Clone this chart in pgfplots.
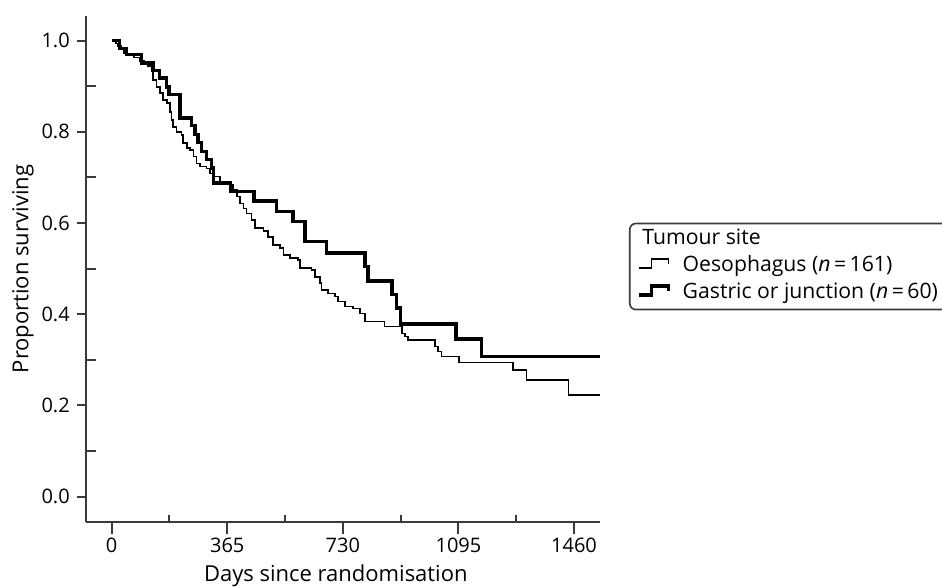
\documentclass[border=0pt]{standalone}
\usepackage{fontspec}
\setmainfont{Open Sans}
\usepackage{pgfplots}
\pgfplotsset{compat=1.18}
\usepackage{pgfplotstable}

\definecolor{axisgray}{HTML}{3A3A3A}

% Kaplan-Meier estimates: day, proportion surviving (step held from that day on)
\pgfplotstableread{
t S
0 1.000
14 0.994
20 0.988
29 0.981
39 0.972
51 0.969
70 0.963
89 0.956
102 0.950
115 0.944
126 0.932
131 0.914
142 0.899
152 0.885
163 0.870
174 0.863
184 0.844
189 0.826
194 0.811
205 0.800
221 0.793
226 0.775
237 0.764
247 0.760
258 0.746
268 0.731
279 0.724
300 0.720
310 0.709
321 0.702
342 0.691
374 0.684
384 0.673
395 0.658
405 0.643
416 0.632
426 0.621
442 0.607
452 0.589
479 0.583
494 0.570
510 0.552
531 0.545
542 0.530
563 0.523
589 0.519
595 0.501
631 0.497
642 0.482
658 0.468
663 0.453
684 0.446
705 0.439
715 0.428
737 0.417
763 0.413
784 0.402
800 0.384
861 0.373
916 0.358
926 0.351
936 0.344
1021 0.329
1031 0.318
1042 0.307
1097 0.294
1268 0.278
1310 0.256
1442 0.223
1542 0.223
}\oesophagus

\pgfplotstableread{
t S
0 1.000
25 0.983
47 0.969
95 0.951
131 0.935
152 0.918
174 0.898
181 0.882
216 0.830
253 0.814
263 0.794
273 0.776
284 0.757
300 0.739
316 0.721
321 0.688
376 0.669
449 0.648
521 0.626
573 0.604
610 0.559
679 0.534
800 0.505
810 0.473
885 0.443
900 0.414
913 0.379
1087 0.346
1168 0.308
1542 0.308
}\gastric

\begin{document}
\begin{tikzpicture}[font=\fontsize{10}{12}\selectfont]
\begin{axis}[
  at={(43pt,-261pt)}, anchor=south west,
  scale only axis, width=257pt, height=253pt,
  xmin=-81, xmax=1542, ymin=-0.0555, ymax=1.054,
  axis x line*=bottom, axis y line*=left,
  axis line style={draw=axisgray, line width=1pt, -},
  tick align=outside,
  major tick length=4.6pt,
  tick style={draw=axisgray, line width=1pt},
  xtick={0,365,730,1095,1460},
  xtick style={/pgfplots/major tick length=6pt},
  ytick={0,0.2,0.4,0.6,0.8,1.0},
  extra x ticks={182.5,547.5,912.5,1277.5},
  extra x tick labels={},
  extra x tick style={tick align=inside, xtick style={/pgfplots/major tick length=3.6pt}},
  extra y ticks={0.1,0.3,0.5,0.7,0.9},
  extra y tick labels={},
  extra y tick style={tick align=inside, major tick length=5pt},
  /pgf/number format/assume math mode=true,
  xticklabel style={/pgf/number format/.cd, 1000 sep={}},
  yticklabel style={/pgf/number format/.cd, fixed, fixed zerofill, precision=1},
  ticklabel style={font=\fontsize{10}{12}\selectfont, text=black},
  xlabel={Days since randomisation},
  xlabel style={at={(axis description cs:0.486,-0.1166)}, anchor=base, font=\fontsize{11}{13}\selectfont},
  ylabel={Proportion surviving},
  ylabel style={at={(axis description cs:-0.1123,0.5)}, anchor=base, font=\fontsize{11}{13}\selectfont},
  clip=false,
  legend cell align=left,
  legend style={
    at={(axis description cs:1.0564,0.5915)}, anchor=north west,
    draw=axisgray, line width=0.8pt, rounded corners=3pt,
    font=\fontsize{10.6}{12.5}\selectfont,
    inner xsep=3.6pt, inner ysep=2.4pt, row sep=2.3pt, column sep=0pt,
    nodes={inner xsep=0pt, inner ysep=0pt, text height=8.2pt, text depth=3pt},
  },
  legend image code/.code={
    \draw[sharp corners, #1] (0pt,-0.8pt) -- (6.5pt,-0.8pt) -- (6.5pt,3.7pt) -- (15pt,3.7pt) -- (15pt,1.2pt);
    \path[draw=none, fill=none] (0pt,0pt) -- (22pt,0pt);
  },
]
\addlegendimage{legend image code/.code={%
  \node[overlay, draw=none, anchor=west, inner sep=0pt, text height=8.2pt, text depth=3pt] at (1.5pt,0pt) {Tumour site};
  \path[draw=none, fill=none] (0pt,0pt) -- (22pt,0pt);}}
\addlegendentry{}
\addplot[const plot, black, line width=0.8pt, line join=miter] table[x=t, y=S] {\oesophagus};
\addlegendentry{Oesophagus (\textit{n}\,=\,161)}
\addplot[const plot, black, line width=1.7pt, line join=miter] table[x=t, y=S] {\gastric};
\addlegendentry{Gastric or junction (\textit{n}\,=\,60)\kern8pt\null}
\end{axis}
\pgfresetboundingbox
\path[use as bounding box] (0pt,0pt) rectangle (471pt,-293pt);
\end{tikzpicture}
\end{document}
